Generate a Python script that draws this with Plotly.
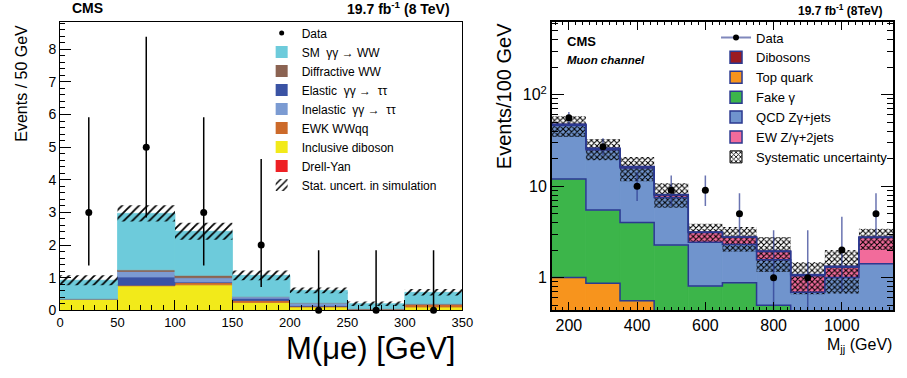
import numpy as np
import plotly.graph_objects as go

W, H = 907, 378
F = "Liberation Sans, Arial, Helvetica, sans-serif"
NAVY = "#2b3990"

# ---------------- left panel: M(mu e) ----------------
l_edges = [0, 50, 100, 150, 200, 250, 300, 350]
l_centers = [25, 75, 125, 175, 225, 275, 325]
l_dy = [0.0, 0.01, 0.01, 0.01, 0.0, 0.0, 0.0]
l_incl = [0.35, 0.74, 0.77, 0.23, 0.10, 0.02, 0.10]
l_ewk = [0.0, 0.02, 0.07, 0.06, 0.02, 0.03, 0.10]
l_elastic = [0.0, 0.25, 0.02, 0.07, 0.03, 0.0, 0.0]
l_inelastic = [0.0, 0.17, 0.13, 0.05, 0.08, 0.0, 0.0]
l_diff = [0.0, 0.05, 0.07, 0.0, 0.0, 0.0, 0.0]
l_smww = [0.57, 1.73, 1.35, 0.65, 0.38, 0.15, 0.35]
l_band_lo = [0.77, 2.72, 2.16, 0.92, 0.52, 0.13, 0.45]
l_band_hi = [1.07, 3.22, 2.68, 1.22, 0.70, 0.27, 0.65]
l_data = [3, 5, 3, 2, 0, 0, 0]
l_data_lo = [1.37, 2.84, 1.37, 0.71, 0.0, 0.0, 0.0]
l_data_hi = [5.92, 8.38, 5.92, 4.64, 1.84, 1.84, 1.84]

# ---------------- right panel: M_jj ----------------
r_edges = [150, 250, 350, 450, 550, 650, 750, 850, 950, 1050, 1150]
r_centers = [200, 300, 400, 500, 600, 700, 800, 900, 1000, 1100]
r_top = [1.0, 0.87, 0.56, 0.30, 0.20, 0.15, 0.10, 0.06, 0.05, 0.05]
r_fake = [11.0, 4.63, 3.44, 1.97, 0.61, 0.73, 0.40, 0.24, 0.25, 0.25]
r_qcd = [34.0, 19.5, 11.8, 5.23, 1.62, 1.42, 1.07, 0.39, 0.70, 1.12]
r_ew = [1.2, 0.8, 0.5, 0.5, 0.69, 0.46, 0.36, 0.36, 0.30, 1.33]
r_dib = [0.4, 0.2, 0.15, 0.1, 0.03, 0.03, 0.03, 0.03, 0.03, 0.04]
r_band_lo = [34.5, 19.2, 11.3, 5.8, 2.46, 1.92, 1.15, 0.66, 0.67, 2.0]
r_band_hi = [58.0, 32.7, 20.8, 10.8, 3.88, 3.58, 2.79, 1.48, 2.0, 3.42]
r_data = [56, 27, 10, 9, 9, 5, 1, 1, 2, 5]
r_data_lo = [48.5, 21.8, 6.89, 6.06, 6.06, 2.84, 0.17, 0.17, 0.71, 2.84]
r_data_hi = [64.5, 33.3, 14.27, 13.11, 13.11, 8.38, 3.30, 3.30, 4.64, 8.38]

C = dict(smww="#6dcbdb", diff="#8b6352", elastic="#3a53a4", inelastic="#7b9bd2",
         ewk="#cc6a2a", incl="#f2ea1a", dy="#ee2024",
         dib="#9b1b22", top="#f7941d", fake="#3cb54a", qcd="#7094cd", ew="#f26b9b")

fig = go.Figure()
LA = dict(xaxis="x", yaxis="y")
RA = dict(xaxis="x2", yaxis="y2")


def add_stack(layers, centers, width, axes, base0, edges=None):
    base = np.full(len(centers), base0, dtype=float)
    tops = []
    for vals, color in layers:
        v = np.array(vals, dtype=float)
        fig.add_trace(go.Bar(x=centers, y=v, base=base, width=width,
                             marker=dict(color=color, line=dict(width=0.8, color=color)),
                             showlegend=False, hoverinfo="skip", **axes))
        base = base + v
        tops.append(base.copy())
    if edges is not None:
        for t in tops:
            fig.add_trace(go.Scatter(x=edges, y=list(t) + [t[-1]], mode="lines",
                                     line=dict(shape="hv", color=NAVY, width=1.5),
                                     showlegend=False, hoverinfo="skip", **axes))


# ---- legend dummies (left) ----
fig.add_trace(go.Scatter(x=[None], y=[None], mode="markers", name="Data",
                         marker=dict(color="black", size=5), legend="legend", **LA))
for nm, col in [("SM\u00a0 γγ → WW", C["smww"]), ("Diffractive WW", C["diff"]),
                ("Elastic\u00a0 γγ → \u00a0ττ", C["elastic"]),
                ("Inelastic\u00a0 γγ → \u00a0ττ", C["inelastic"]),
                ("EWK WWqq", C["ewk"]), ("Inclusive diboson", C["incl"]),
                ("Drell-Yan", C["dy"])]:
    fig.add_trace(go.Bar(x=[None], y=[None], name=nm, marker=dict(color=col, line=dict(width=0)),
                         legend="legend", **LA))
fig.add_trace(go.Bar(x=[None], y=[None], name="Stat. uncert. in simulation", legend="legend",
                     marker=dict(color="rgba(0,0,0,0)", line=dict(width=0),
                                 pattern=dict(shape="/", fgcolor="black", bgcolor="rgba(0,0,0,0)",
                                              size=6, solidity=0.3, fillmode="replace")), **LA))

# ---- legend dummies (right) ----
fig.add_trace(go.Scatter(x=[None], y=[None], mode="lines+markers", name="Data",
                         line=dict(color="rgba(43,57,144,0.6)", width=2),
                         marker=dict(color="black", size=6), legend="legend2", **RA))
for nm, col in [("Dibosons", C["dib"]), ("Top quark", C["top"]), ("Fake γ", C["fake"]),
                ("QCD Zγ+jets", C["qcd"]), ("EW Z/γ+2jets", C["ew"])]:
    fig.add_trace(go.Bar(x=[None], y=[None], name=nm,
                         marker=dict(color=col, line=dict(color=NAVY, width=1.5)),
                         legend="legend2", **RA))
fig.add_trace(go.Bar(x=[None], y=[None], name="Systematic uncertainty", legend="legend2",
                     marker=dict(color="rgba(0,0,0,0)", line=dict(color="black", width=1),
                                 pattern=dict(shape="x", fgcolor="black", bgcolor="white",
                                              size=4, solidity=0.45, fillmode="replace")), **RA))

# ---- left stack ----
add_stack([(l_dy, C["dy"]), (l_incl, C["incl"]), (l_ewk, C["ewk"]), (l_elastic, C["elastic"]),
           (l_inelastic, C["inelastic"]), (l_diff, C["diff"]), (l_smww, C["smww"])],
          l_centers, 50, LA, 0.0)
lb_lo = np.array(l_band_lo)
lb_hi = np.array(l_band_hi)
fig.add_trace(go.Bar(x=l_centers, y=lb_hi - lb_lo, base=lb_lo, width=50, showlegend=False,
                     hoverinfo="skip",
                     marker=dict(color="rgba(0,0,0,0)", line=dict(width=0),
                                 pattern=dict(shape="/", fgcolor="black", bgcolor="rgba(0,0,0,0)",
                                              size=6, solidity=0.3, fillmode="replace")), **LA))
ld = np.array(l_data, dtype=float)
fig.add_trace(go.Scatter(x=l_centers, y=ld, mode="markers", showlegend=False, cliponaxis=False,
                         marker=dict(color="black", size=7),
                         error_y=dict(type="data", symmetric=False, array=np.array(l_data_hi) - ld,
                                      arrayminus=ld - np.array(l_data_lo), color="black",
                                      thickness=1.5, width=0), **LA))

# ---- right stack ----
add_stack([(r_top, C["top"]), (r_fake, C["fake"]), (r_qcd, C["qcd"]), (r_ew, C["ew"]),
           (r_dib, C["dib"])], r_centers, 100, RA, 1e-3, edges=r_edges)
rb_lo = np.array(r_band_lo)
rb_hi = np.array(r_band_hi)
fig.add_trace(go.Bar(x=r_centers, y=rb_hi - rb_lo, base=rb_lo, width=100, showlegend=False,
                     hoverinfo="skip",
                     marker=dict(color="rgba(0,0,0,0)", line=dict(width=0),
                                 pattern=dict(shape="x", fgcolor="black", bgcolor="rgba(0,0,0,0)",
                                              size=4, solidity=0.45, fillmode="replace")), **RA))
rd = np.array(r_data, dtype=float)
fig.add_trace(go.Scatter(x=r_centers, y=rd, mode="markers", showlegend=False,
                         marker=dict(color="black", size=7),
                         error_y=dict(type="data", symmetric=False, array=np.array(r_data_hi) - rd,
                                      arrayminus=rd - np.array(r_data_lo),
                                      color="rgba(43,57,144,0.7)", thickness=1.5, width=0), **RA))


def px(x):
    return x / W


def py(y):
    return 1 - y / H


ydom = [py(317), py(22)]
axis_common = dict(showgrid=False, zeroline=False, showline=True, linecolor="black",
                   ticks="inside", tickcolor="black", color="black")

fig.update_layout(
    width=W, height=H, margin=dict(l=0, r=0, t=0, b=0),
    paper_bgcolor="white", plot_bgcolor="white", barmode="overlay",
    font=dict(family=F, color="black"),
    xaxis=dict(domain=[px(57), px(466)], range=[0, 350], tick0=0, dtick=50, ticklen=10,
               tickwidth=1, linewidth=1, mirror=True, anchor="y",
               tickfont=dict(size=13, family=F),
               minor=dict(dtick=10, ticks="inside", ticklen=5, tickcolor="black"),
               **axis_common),
    yaxis=dict(domain=ydom, range=[0, 8.85], tick0=0, dtick=1, ticklen=11, tickwidth=1,
               linewidth=1, mirror=True, anchor="x", tickfont=dict(size=14, family=F),
               minor=dict(dtick=0.2, ticks="inside", ticklen=5, tickcolor="black"),
               **axis_common),
    xaxis2=dict(domain=[px(557), px(904)], range=[150, 1150], tick0=200, dtick=200, ticklen=9,
                tickwidth=1, linewidth=1.5, mirror="ticks", anchor="y2",
                tickfont=dict(size=16, family=F),
                minor=dict(dtick=20, ticks="inside", ticklen=4, tickcolor="black"),
                **axis_common),
    yaxis2=dict(domain=ydom, type="log", range=[np.log10(0.44), np.log10(630)],
                tickvals=[1, 10, 100], ticktext=["1", "10", "10<sup>2</sup>"], ticklen=12,
                tickwidth=1, linewidth=1.5, mirror="ticks", anchor="x2",
                tickfont=dict(size=16, family=F),
                minor=dict(tickvals=[0.5, 0.6, 0.7, 0.8, 0.9, 2, 3, 4, 5, 6, 7, 8, 9,
                                     20, 30, 40, 50, 60, 70, 80, 90, 200, 300, 400, 500, 600],
                           ticks="inside", ticklen=6, tickcolor="black"),
                **axis_common),
    legend=dict(x=px(262), y=py(19), xanchor="left", yanchor="top", bgcolor="rgba(0,0,0,0)",
                font=dict(size=12, family=F), tracegroupgap=0, itemclick=False),
    legend2=dict(x=px(724), y=py(23), xanchor="left", yanchor="top", bgcolor="rgba(0,0,0,0)",
                 font=dict(size=13, family=F), tracegroupgap=0, itemclick=False),
)

ann = [
    dict(text="<b>CMS</b>", x=px(67), y=py(8), xanchor="left", yanchor="middle", font=dict(size=14)),
    dict(text="<b>19.7 fb<sup>-1</sup> (8 TeV)</b>", x=px(456), y=py(8), xanchor="right",
         yanchor="middle", font=dict(size=14)),
    dict(text="Events / 50 GeV", x=px(17), y=py(23), xanchor="center", yanchor="top",
         textangle=-90, font=dict(size=16)),
    dict(text="M(μe) [GeV]", x=px(461), y=py(356), xanchor="right", yanchor="middle",
         font=dict(size=31)),
    dict(text="<b>19.7 fb<sup>-1</sup> (8TeV)</b>", x=px(896), y=py(10), xanchor="right",
         yanchor="middle", font=dict(size=12)),
    dict(text="<b>CMS</b>", x=px(570), y=py(42), xanchor="left", yanchor="middle", font=dict(size=13)),
    dict(text="<b><i>Muon channel</i></b>", x=px(570), y=py(61), xanchor="left", yanchor="middle",
         font=dict(size=11.5)),
    dict(text="Events/100 GeV", x=px(508), y=py(22), xanchor="center", yanchor="top",
         textangle=-90, font=dict(size=20)),
    dict(text="M<sub>jj</sub> (GeV)", x=px(905), y=py(353), xanchor="right", yanchor="middle",
         font=dict(size=16)),
]
for a in ann:
    a.update(xref="paper", yref="paper", showarrow=False)
    a["font"] = dict(family=F, color="black", **a["font"])
fig.update_layout(annotations=ann)

fig.write_html("out.html")
